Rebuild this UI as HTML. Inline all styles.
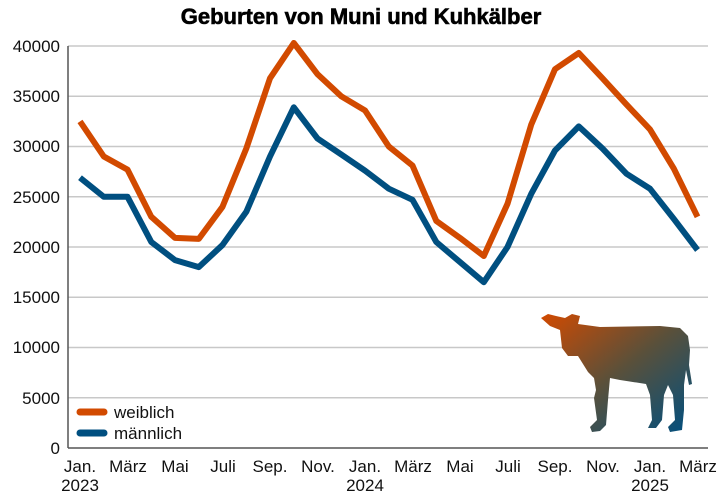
<!DOCTYPE html>
<html><head><meta charset="utf-8"><style>
body{margin:0;background:#fff}
svg{display:block;font-family:"Liberation Sans",sans-serif}
</style></head><body>
<svg width="720" height="497" viewBox="0 0 720 497">
<defs><linearGradient id="g" x1="0" y1="0" x2="1" y2="1"><stop offset="0" stop-color="#d24a00"/><stop offset="0.5" stop-color="#5a503a"/><stop offset="1" stop-color="#004f80"/></linearGradient></defs>
<text x="361" y="24" text-anchor="middle" font-size="22" font-weight="bold" stroke="#000" stroke-width="0.6">Geburten von Muni und Kuhkälber</text>
<g stroke="#c8c8c8" stroke-width="1.5">
<line x1="68" x2="708" y1="46" y2="46"/><line x1="68" x2="708" y1="96.3" y2="96.3"/><line x1="68" x2="708" y1="146.5" y2="146.5"/><line x1="68" x2="708" y1="196.8" y2="196.8"/><line x1="68" x2="708" y1="247" y2="247"/><line x1="68" x2="708" y1="297.3" y2="297.3"/><line x1="68" x2="708" y1="347.5" y2="347.5"/><line x1="68" x2="708" y1="397.8" y2="397.8"/>
</g>
<line x1="68" x2="708" y1="448" y2="448" stroke="#555" stroke-width="1.5"/>
<line x1="68" x2="68" y1="46" y2="448" stroke="#555" stroke-width="1.5"/>
<g font-size="17" text-anchor="end" fill="#111">
<text x="60" y="52">40000</text><text x="60" y="102">35000</text><text x="60" y="152">30000</text><text x="60" y="203">25000</text><text x="60" y="253">20000</text><text x="60" y="303">15000</text><text x="60" y="353">10000</text><text x="60" y="404">5000</text><text x="60" y="454">0</text>
</g>
<g font-size="17" text-anchor="middle" fill="#111">
<text x="80" y="472">Jan.</text><text x="80" y="491">2023</text>
<text x="128" y="472">März</text><text x="175" y="472">Mai</text><text x="223" y="472">Juli</text><text x="270" y="472">Sep.</text><text x="318" y="472">Nov.</text>
<text x="365" y="472">Jan.</text><text x="365" y="491">2024</text>
<text x="413" y="472">März</text><text x="460" y="472">Mai</text><text x="508" y="472">Juli</text><text x="555" y="472">Sep.</text><text x="603" y="472">Nov.</text>
<text x="650" y="472">Jan.</text><text x="650" y="491">2025</text>
<text x="698" y="472">März</text>
</g>
<path d="M541,318 L548,314 L556,316 L565,318 L572,314 L580,316 L578,324 L600,327 L660,326 L680,328 L688,336 L690,350 L689,365 L692,384 L689,385 L686,370 L684,385 L684,410 L682,430 L670,432 L668,427 L675,420 L673,395 L668,385 L664,395 L662,420 L656,428 L648,428 L652,420 L650,395 L646,384 L620,380 L610,378 L608,400 L606,425 L600,431 L592,432 L590,427 L597,420 L594,398 L596,390 L594,378 L588,372 L578,356 L568,356 L562,348 L560,330 L550,326 Z" fill="url(#g)"/>
<polyline fill="none" stroke="#d24a00" stroke-width="6" stroke-linejoin="round" points="80,121.4 103.8,156.5 127.5,169.6 151.3,216.8 175,237.9 198.8,238.9 222.5,206.8 246.3,148.5 270,78.3 293.8,43.0 317.5,74.2 341.3,96.3 365,110.4 388.8,146.5 412.5,165.6 436.3,220.9 460,237.9 483.8,256.0 507.5,203.8 531.3,124.4 555,69.2 578.8,53.0 602.5,78.3 626.3,104.3 650,129.4 673.8,168.6 697.5,216.8"/>
<polyline fill="none" stroke="#004f80" stroke-width="6" stroke-linejoin="round" points="80,177.7 103.8,196.8 127.5,196.8 151.3,242.0 175,260.1 198.8,267.1 222.5,245.0 246.3,211.8 270,156.5 293.8,107.3 317.5,138.5 341.3,154.5 365,170.6 388.8,188.7 412.5,199.8 436.3,242.0 460,262.1 483.8,282.2 507.5,247.0 531.3,193.7 555,150.5 578.8,126.4 602.5,148.5 626.3,173.6 650,188.7 673.8,218.9 697.5,250.0"/>
<line x1="80" x2="104" y1="412" y2="412" stroke="#d24a00" stroke-width="7" stroke-linecap="round"/>
<line x1="80" x2="104" y1="433" y2="433" stroke="#004f80" stroke-width="7" stroke-linecap="round"/>
<g font-size="17" fill="#111"><text x="114" y="418">weiblich</text><text x="114" y="439">männlich</text></g>
</svg>
</body></html>
